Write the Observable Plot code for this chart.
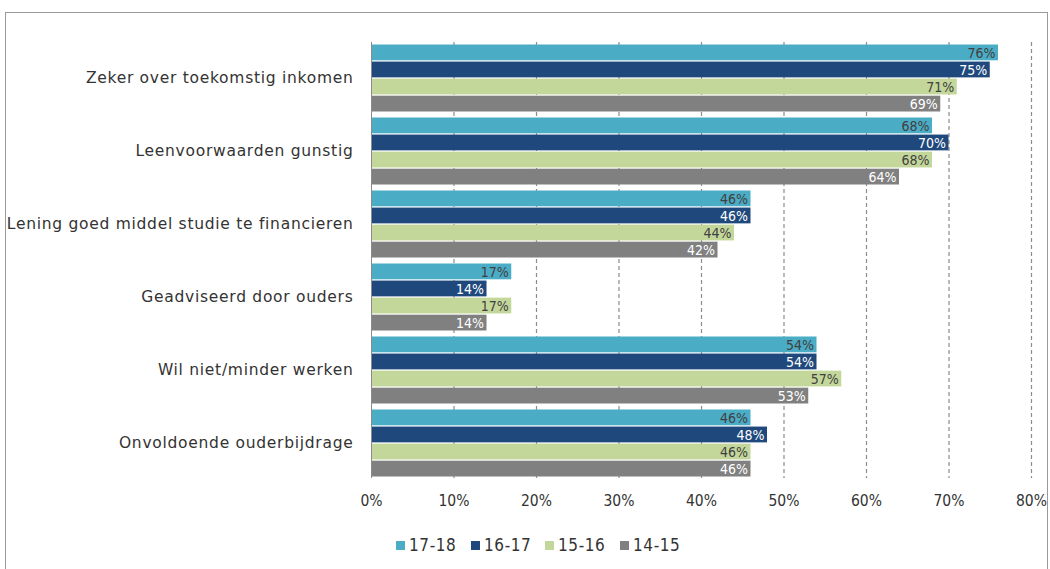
<!DOCTYPE html>
<html>
<head>
<meta charset="utf-8">
<script src="https://cdn.jsdelivr.net/npm/d3@7"></script>
<script src="https://cdn.jsdelivr.net/npm/@observablehq/plot@0.6"></script>
<style>
  body { margin: 0; background: #fff; overflow: hidden; }
  #wrap { position: relative; width: 1050px; height: 569px; overflow: hidden; }
  #frame { position: absolute; left: 5px; top: 12px; width: 1041px; height: 600px; border: 1px solid #9a9a9a; }
  #chart { position: absolute; left: 0; top: 0; }
  #legend { position: absolute; top: 535px; left: 0; width: 1050px; font-family: "DejaVu Sans Condensed", "Liberation Sans Narrow", "DejaVu Sans", sans-serif; font-size: 17px; letter-spacing: 0.6px; color: #333; }
  .item { position: absolute; top: 0; display: flex; align-items: center; }
  .sw { width: 9px; height: 9px; margin-right: 4px; }
</style>
</head>
<body>
<div id="wrap">
  <div id="frame"></div>
  <div id="chart"></div>
  <div id="legend"></div>
</div>
<script>
const categories = [
  "Zeker over toekomstig inkomen",
  "Leenvoorwaarden gunstig",
  "Lening goed middel studie te financieren",
  "Geadviseerd door ouders",
  "Wil niet/minder werken",
  "Onvoldoende ouderbijdrage"
];
const seriesNames = ["17-18", "16-17", "15-16", "14-15"];
const v1718 = [76, 68, 46, 17, 54, 46];
const v1617 = [75, 70, 46, 14, 54, 48];
const v1516 = [71, 68, 44, 17, 57, 46];
const v1415 = [69, 64, 42, 14, 53, 46];
const xTicks = [0, 10, 20, 30, 40, 50, 60, 70, 80];

const colors = ["#4bacc6", "#1f497d", "#c4d79b", "#808080"];
const labelColors = ["#404040", "#ffffff", "#404040", "#ffffff"];
const seriesValues = [v1718, v1617, v1516, v1415];

const data = [];
seriesNames.forEach((s, si) => {
  categories.forEach((c, ci) => {
    data.push({category: c, series: s, si, value: seriesValues[si][ci]});
  });
});

const W = 1050, H = 520;
const mTop = 42, mBottom = 42, mLeft = 371, mRight = 19;
const padIn = 0.07, padOut = 0.005;
const band = d3.scaleBand().domain(categories).range([mTop, H - mBottom]).paddingInner(padIn).paddingOuter(padOut);
const bw = band.bandwidth();
const barH = bw / 4;

const font = '"DejaVu Sans Condensed", "Liberation Sans Narrow", "DejaVu Sans", sans-serif';

const marks = [
  Plot.ruleX(xTicks.filter(d => d > 0), {stroke: "#8c8c8c", strokeDasharray: "4,3", strokeWidth: 1.2})
];
seriesNames.forEach((s, si) => {
  const sub = data.filter(d => d.si === si);
  marks.push(Plot.barX(sub, {
    x: "value", y: "category", fill: colors[si],
    insetTop: si * barH + 0.5, insetBottom: (3 - si) * barH + 0.5
  }));
  marks.push(Plot.text(sub, {
    x: "value", y: "category", text: d => d.value + "%",
    dy: -bw / 2 + (si + 0.5) * barH + 0.5, dx: -3,
    textAnchor: "end", fill: labelColors[si], fontSize: 14
  }));
});
marks.push(Plot.ruleX([0], {stroke: "#8c8c8c", strokeWidth: 1}));

const plot = Plot.plot({
  width: W, height: H,
  marginTop: mTop, marginBottom: mBottom, marginLeft: mLeft, marginRight: mRight,
  style: {fontFamily: font, fontSize: "15.5px", color: "#333", background: "transparent"},
  x: {domain: [0, 80], ticks: xTicks, tickFormat: d => d + "%", tickSize: 0, tickPadding: 16, label: null},
  y: {domain: categories, paddingInner: padIn, paddingOuter: padOut, tickSize: 0, tickPadding: 18, label: null},
  marks
});
plot.querySelectorAll("g[aria-label='y-axis tick label'] text, g[aria-label='y-axis'] text").forEach(t => {
  t.style.fontFamily = '"DejaVu Sans", sans-serif';
  t.style.fontSize = "15.5px";
  t.style.letterSpacing = "0.72px";
});
document.getElementById("chart").appendChild(plot);

const legend = document.getElementById("legend");
const lx = [396, 471, 545, 620];
seriesNames.forEach((s, i) => {
  const it = document.createElement("div");
  it.className = "item";
  it.style.left = lx[i] + "px";
  it.innerHTML = `<span class="sw" style="background:${colors[i]}"></span><span>${s}</span>`;
  legend.appendChild(it);
});
</script>
</body>
</html>
